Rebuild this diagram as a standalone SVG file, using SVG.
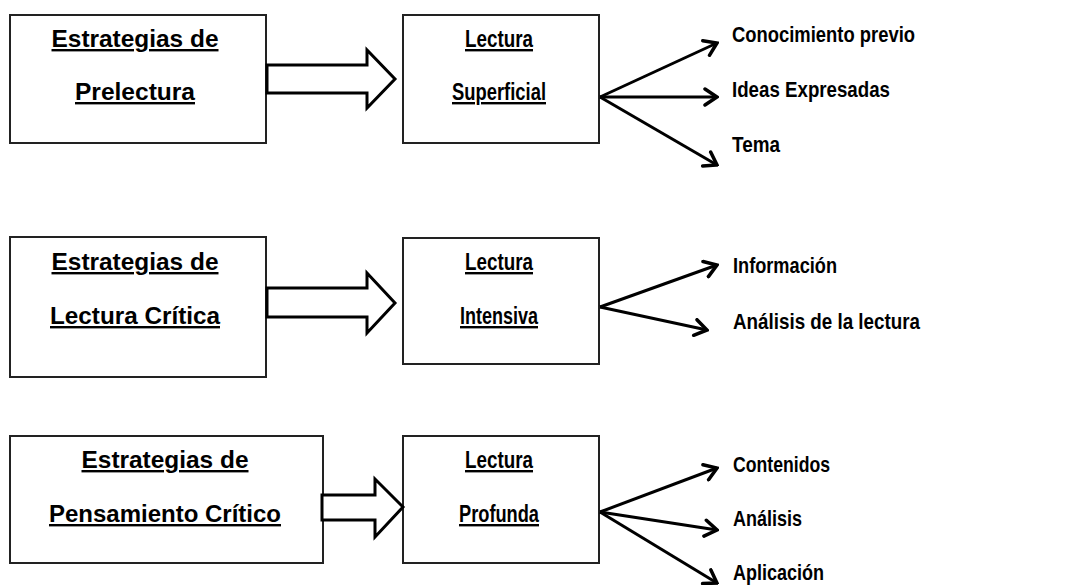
<svg xmlns="http://www.w3.org/2000/svg" width="1077" height="585" viewBox="0 0 1077 585">
<style>
.box{fill:#fff;stroke:#222;stroke-width:2}
.blk{fill:#fff;stroke:#000;stroke-width:3;stroke-linejoin:miter}
.t{font-family:"Liberation Sans",Arial,sans-serif;font-weight:bold;font-size:24px;text-anchor:middle;text-decoration:underline;fill:#000}
.l{font-family:"Liberation Sans",Arial,sans-serif;font-weight:bold;font-size:22px;fill:#000}
.c{stroke:#000;stroke-width:3;fill:none;marker-end:url(#ah)}
</style>
<defs>
<marker id="ah" markerUnits="userSpaceOnUse" viewBox="0 0 16 20" refX="14" refY="10" markerWidth="16" markerHeight="20" orient="auto">
<path d="M2,2 L14,10 L2,18" fill="none" stroke="#000" stroke-width="3.5" stroke-linecap="round" stroke-linejoin="miter"/>
</marker>
</defs>
<rect width="1077" height="585" fill="#fff"/>
<g id="estrategias-prelectura">
<rect class="box" x="10" y="15" width="256" height="128"/>
<text class="t" x="135" y="47" textLength="167" lengthAdjust="spacingAndGlyphs">Estrategias de</text>
<text class="t" x="135" y="100" textLength="120" lengthAdjust="spacingAndGlyphs">Prelectura</text>
</g>
<g id="lectura-superficial">
<rect class="box" x="403" y="15" width="196" height="128"/>
<text class="t" x="499" y="47" textLength="68" lengthAdjust="spacingAndGlyphs">Lectura</text>
<text class="t" x="499" y="100" textLength="94" lengthAdjust="spacingAndGlyphs">Superficial</text>
</g>
<g id="estrategias-lectura-critica">
<rect class="box" x="10" y="237" width="256" height="140"/>
<text class="t" x="135" y="270" textLength="167" lengthAdjust="spacingAndGlyphs">Estrategias de</text>
<text class="t" x="135" y="324" textLength="170" lengthAdjust="spacingAndGlyphs">Lectura Crítica</text>
</g>
<g id="lectura-intensiva">
<rect class="box" x="403" y="238" width="196" height="126"/>
<text class="t" x="499" y="270" textLength="68" lengthAdjust="spacingAndGlyphs">Lectura</text>
<text class="t" x="499" y="324" textLength="78" lengthAdjust="spacingAndGlyphs">Intensiva</text>
</g>
<g id="estrategias-pensamiento-critico">
<rect class="box" x="10" y="436" width="313" height="127"/>
<text class="t" x="165" y="468" textLength="167" lengthAdjust="spacingAndGlyphs">Estrategias de</text>
<text class="t" x="165" y="522" textLength="232" lengthAdjust="spacingAndGlyphs">Pensamiento Crítico</text>
</g>
<g id="lectura-profunda">
<rect class="box" x="403" y="436" width="196" height="127"/>
<text class="t" x="499" y="468" textLength="68" lengthAdjust="spacingAndGlyphs">Lectura</text>
<text class="t" x="499" y="522" textLength="80" lengthAdjust="spacingAndGlyphs">Profunda</text>
</g>
<g id="labels">
<text class="l" x="732" y="42" textLength="183" lengthAdjust="spacingAndGlyphs">Conocimiento  previo</text>
<text class="l" x="732" y="97" textLength="158" lengthAdjust="spacingAndGlyphs">Ideas Expresadas</text>
<text class="l" x="732" y="152" textLength="48" lengthAdjust="spacingAndGlyphs">Tema</text>
<text class="l" x="733" y="273" textLength="104" lengthAdjust="spacingAndGlyphs">Información</text>
<text class="l" x="733" y="329" textLength="187" lengthAdjust="spacingAndGlyphs">Análisis de la lectura</text>
<text class="l" x="733" y="472" textLength="97" lengthAdjust="spacingAndGlyphs">Contenidos</text>
<text class="l" x="733" y="526" textLength="69" lengthAdjust="spacingAndGlyphs">Análisis</text>
<text class="l" x="733" y="580" textLength="91" lengthAdjust="spacingAndGlyphs">Aplicación</text>
</g>
<g id="connectors">
<polygon class="blk" points="267,65 367,65 367,50 395,79 367,108 367,93 267,93"/>
<polygon class="blk" points="267,288 367,288 367,273 395,303 367,333 367,317 267,317"/>
<polygon class="blk" points="322,495 375,495 375,479 403,507 375,537 375,520 322,520"/>
<path class="c" d="M600,97 L717,43"/>
<path class="c" d="M600,97 L717,97"/>
<path class="c" d="M600,97 L717,165"/>
<path class="c" d="M600,307 L717,265"/>
<path class="c" d="M600,307 L707,330"/>
<path class="c" d="M600,512 L717,468"/>
<path class="c" d="M600,512 L717,530"/>
<path class="c" d="M600,512 L717,583"/>
</g>
</svg>
